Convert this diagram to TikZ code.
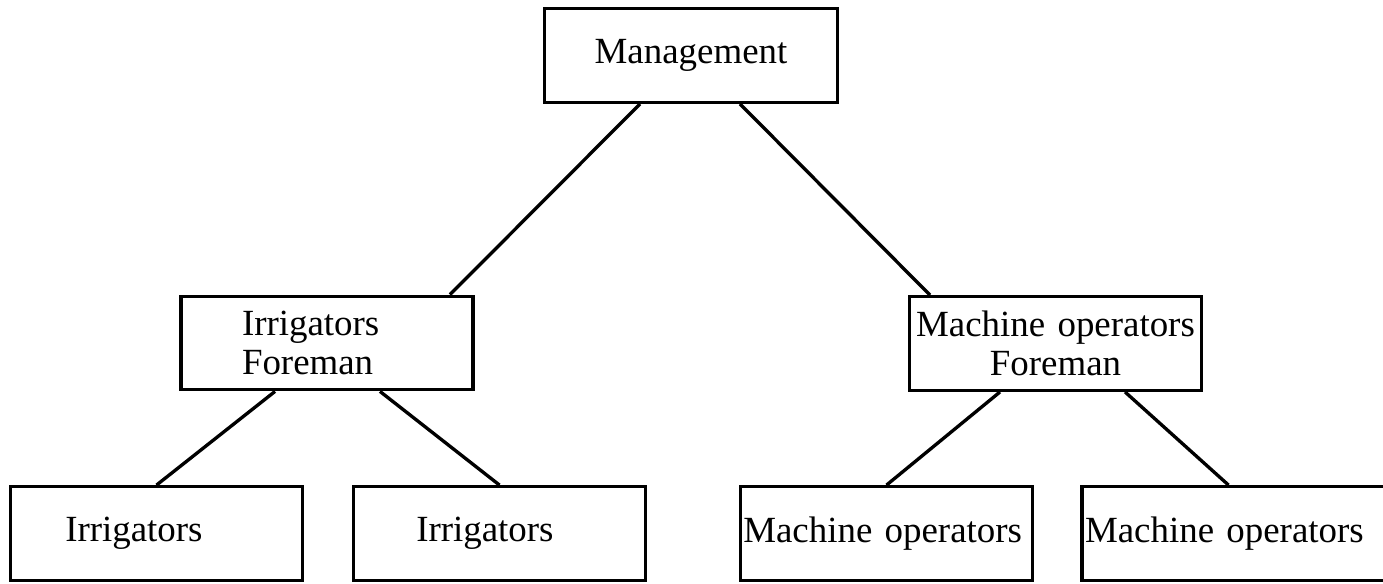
\documentclass[tikz,border=0pt]{standalone}
\usepackage{fontspec}
\setmainfont{Liberation Serif}
\usepackage{tikz}
\usetikzlibrary{
  calc
  , positioning
}

\begin{document}
\begin{tikzpicture}[
    box/.style={draw=black,
      line width=1.9pt,
      minimum height=1.87cm,
      text width=5.85cm,
      inner xsep=0pt,
      inner ysep=0pt,
      align=center,
      font=\fontsize{21}{22}\selectfont},
    link/.style={line width=1.9pt}
  ]
  \useasboundingbox (0,0) rectangle (27.66,-11.66);

  % top
  \node [box] (mgmt) at (13.82,-1.11) {Management};

  % foremen
  \node [box,
    align=left,
    text width=3.4cm,
    inner xsep=1.22cm] (irf) at (6.54,-6.86) {Irrigators\\Foreman};
  \node [box] (mof) at (21.11,-6.87) {Machine operators\\Foreman};

  % workers
  \node [box,
    align=left,
    text width=3.65cm,
    inner xsep=1.1cm] (irr1) at (3.13,-10.67) {Irrigators};
  \node [box,
    align=left,
    text width=3.33cm,
    inner xsep=1.26cm] (irr2) at (9.99,-10.67) {Irrigators};
  \node [box,
    align=left,
    text width=5.73cm,
    inner xsep=0.06cm] (mop1) at (17.73,-10.67) {Machine operators};
  \node [box,
    align=left,
    text width=6.18cm,
    inner xsep=0.06cm] (mop2) at (24.79,-10.67) {Machine operators};

  \draw [link] ($(mgmt.south)+(-1.02,0)$) -- ($(irf.north)+(2.46,0)$);
  \draw [link] ($(mgmt.south)+(0.98,0)$) -- ($(mof.north)+(-2.51,0)$);

  \draw [link] ($(irf.south)+(-1.04,0)$) -- (irr1.north);
  \draw [link] ($(irf.south)+(1.06,0)$) -- (irr2.north);

  \draw [link] ($(mof.south)+(-1.11,0)$) -- (mop1.north);
  \draw [link] ($(mof.south)+(1.39,0)$) -- ($(mop2.north)+(-0.22,0)$);
\end{tikzpicture}
\end{document}
